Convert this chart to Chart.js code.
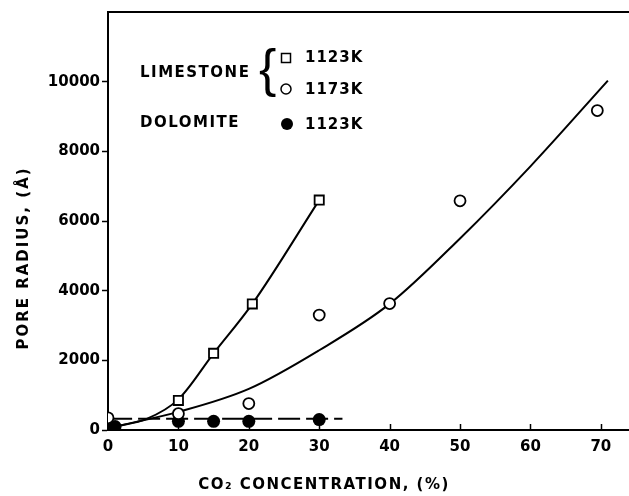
<!DOCTYPE html>
<html>
<head>
<meta charset="utf-8">
<script src="https://cdn.jsdelivr.net/npm/chart.js@4"></script>
<style>
  body { margin: 0; background: #fff; }
  canvas { display: block; }
</style>
</head>
<body>
<canvas id="poreChart" width="629" height="496"></canvas>
<script>
// measured points
const limestone1123X = [10, 15, 20.5, 30];
const limestone1123Y = [850, 2200, 3620, 6600];
const limestone1173X = [0, 10, 20, 30, 40, 50, 69.5];
const limestone1173Y = [350, 470, 760, 3300, 3630, 6580, 9170];
const dolomiteX = [1, 10, 15, 20, 30];
const dolomiteY = [100, 250, 250, 250, 300];

// drawn fit curves
const fit1123X = [1, 5.5, 10, 15, 20.5, 30];
const fit1123Y = [100, 320, 880, 2200, 3620, 6600];
const fit1173X = [1, 10, 20, 30, 40, 50, 60, 71];
const fit1173Y = [100, 520, 1180, 2290, 3620, 5500, 7570, 10030];
const dolomiteLineX = [0.3, 33.3];
const dolomiteLineY = [320, 320];

const xTicks = [0, 10, 20, 30, 40, 50, 60, 70];
const yTicks = [0, 2000, 4000, 6000, 8000, 10000];

const pts = (xs, ys) => xs.map((x, i) => ({ x: x, y: ys[i] }));
const FONT = 'DejaVu Sans';

const annotate = {
    id: 'annotate',
    afterDraw(chart) {
        const ctx = chart.ctx;
        const area = chart.chartArea;
        const xs = chart.scales.x;
        ctx.save();
        ctx.strokeStyle = '#000';
        ctx.fillStyle = '#000';
        ctx.lineWidth = 2;

        // top frame
        ctx.beginPath();
        ctx.moveTo(area.left, area.top);
        ctx.lineTo(area.right, area.top);
        ctx.stroke();

        // x ticks point up into the plot
        ctx.lineWidth = 1.5;
        xTicks.forEach(v => {
            const px = Math.round(xs.getPixelForValue(v)) + 0.5;
            ctx.beginPath();
            ctx.moveTo(px, area.bottom);
            ctx.lineTo(px, area.bottom - 6);
            ctx.stroke();
        });

        // axis titles
        ctx.font = 'bold 15px "' + FONT + '"';
        ctx.letterSpacing = '1.5px';
        ctx.textAlign = 'center';
        ctx.textBaseline = 'middle';
        ctx.fillText('CO\u2082 CONCENTRATION, (%)', 324, 485);
        ctx.save();
        ctx.translate(24, 258);
        ctx.rotate(-Math.PI / 2);
        ctx.letterSpacing = '2px';
        ctx.fillText('PORE RADIUS, (\u00C5)', 0, 0);
        ctx.restore();

        // legend
        ctx.textAlign = 'left';
        ctx.letterSpacing = '1.5px';
        ctx.fillText('LIMESTONE', 140, 73);
        ctx.fillText('DOLOMITE', 140, 123);
        ctx.letterSpacing = '1px';
        ctx.fillText('1123K', 305, 58);
        ctx.fillText('1173K', 305, 90);
        ctx.fillText('1123K', 305, 125);

        ctx.letterSpacing = '0px';
        ctx.font = '52px "Liberation Sans"';
        ctx.fillText('{', 259, 72);

        ctx.lineWidth = 1.5;
        ctx.strokeRect(281.5, 53.5, 9, 9);
        ctx.beginPath();
        ctx.arc(286, 89, 5, 0, Math.PI * 2);
        ctx.stroke();
        ctx.beginPath();
        ctx.arc(287, 124, 6, 0, Math.PI * 2);
        ctx.fill();
        ctx.restore();
    }
};

const ctx = document.getElementById('poreChart').getContext('2d');
const poreChart = new Chart(ctx, {
    type: 'scatter',
    data: {
        datasets: [
            {
                label: 'Limestone 1123K',
                data: pts(limestone1123X, limestone1123Y),
                pointStyle: 'rect',
                pointRadius: 6.5,
                borderWidth: 1.8,
                borderColor: '#000',
                backgroundColor: '#fff',
                order: 1,
            },
            {
                label: 'Limestone 1173K',
                data: pts(limestone1173X, limestone1173Y),
                pointStyle: 'circle',
                pointRadius: 5.5,
                borderWidth: 1.8,
                borderColor: '#000',
                backgroundColor: '#fff',
                order: 1,
            },
            {
                label: 'Dolomite 1123K',
                data: pts(dolomiteX, dolomiteY),
                pointStyle: 'circle',
                pointRadius: 6.5,
                borderWidth: 0,
                borderColor: '#000',
                backgroundColor: '#000',
                order: 1,
            },
            {
                label: 'fit 1123K',
                data: pts(fit1123X, fit1123Y),
                showLine: true,
                pointRadius: 0,
                borderColor: '#000',
                borderWidth: 2,
                cubicInterpolationMode: 'monotone',
                order: 2,
            },
            {
                label: 'fit 1173K',
                data: pts(fit1173X, fit1173Y),
                showLine: true,
                pointRadius: 0,
                borderColor: '#000',
                borderWidth: 2,
                cubicInterpolationMode: 'monotone',
                order: 2,
            },
            {
                label: 'fit dolomite',
                data: pts(dolomiteLineX, dolomiteLineY),
                showLine: true,
                pointRadius: 0,
                borderColor: '#000',
                borderWidth: 2,
                borderDash: [22, 6],
                order: 2,
            }
        ]
    },
    options: {
        responsive: false,
        animation: false,
        layout: { autoPadding: false, padding: { top: 12, right: 0, left: 0, bottom: 0 } },
        scales: {
            x: {
                type: 'linear',
                min: 0,
                max: 74,
                afterBuildTicks: (scale) => { scale.ticks = xTicks.map(v => ({ value: v })); },
                afterFit: (scale) => {
                    scale.height = 66;
                    scale.paddingRight = 0;
                    scale.paddingLeft = 0;
                },
                grid: { drawOnChartArea: false, drawTicks: false },
                border: { color: '#000', width: 2 },
                ticks: {
                    padding: 8,
                    color: '#000',
                    font: { family: FONT, size: 15, weight: 'bold' },
                },
            },
            y: {
                min: 0,
                max: 12000,
                afterBuildTicks: (scale) => { scale.ticks = yTicks.map(v => ({ value: v })); },
                afterFit: (scale) => { scale.width = 108; },
                grid: { drawOnChartArea: false, tickLength: 6, tickWidth: 1.5, tickColor: '#000' },
                border: { color: '#000', width: 2 },
                ticks: {
                    padding: 2,
                    color: '#000',
                    font: { family: FONT, size: 15, weight: 'bold' },
                    callback: (v) => String(v),
                },
            }
        },
        plugins: {
            legend: { display: false },
            tooltip: { enabled: false },
        }
    },
    plugins: [annotate]
});
</script>
</body>
</html>
